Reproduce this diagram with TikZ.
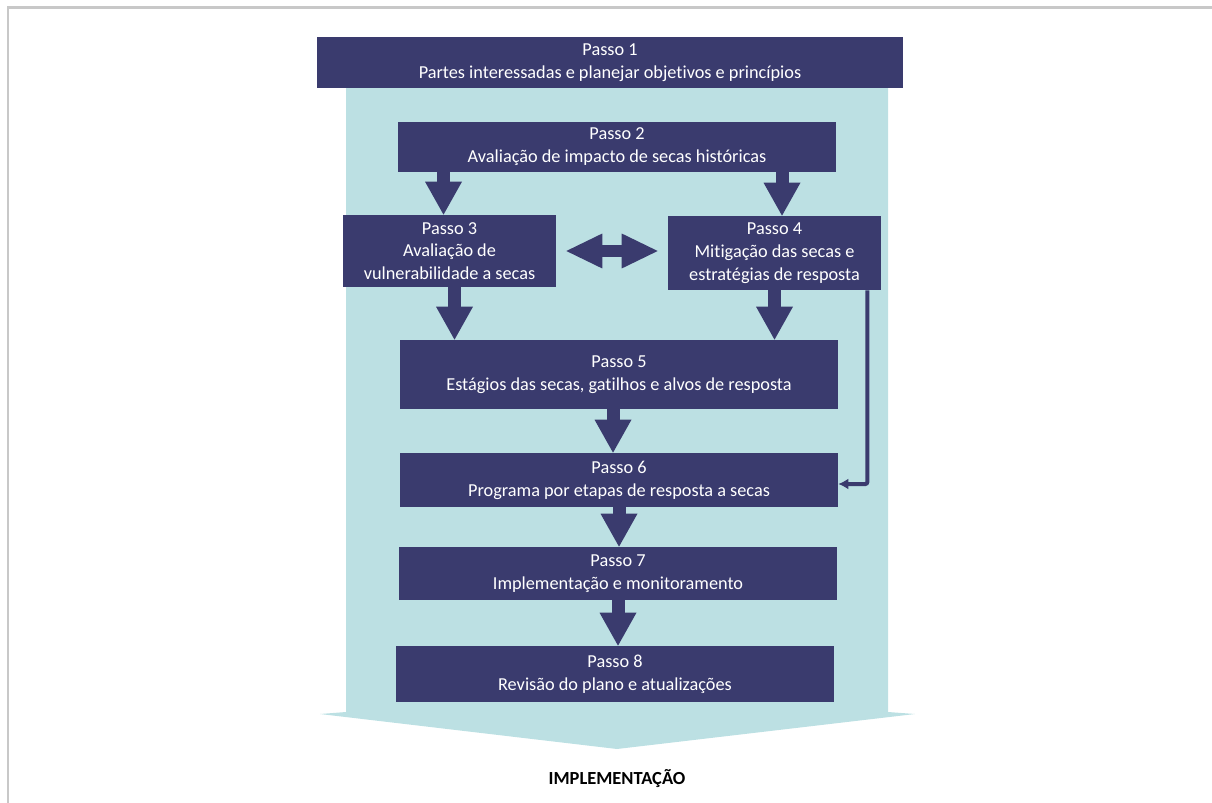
\documentclass[tikz,border=0pt]{standalone}
\usepackage{fontspec}
\setmainfont[Ligatures=NoCommon]{Carlito}
\usepackage{xcolor}
\usetikzlibrary{
    arrows.meta,
    calc
}

\definecolor{passonavy}{RGB}{58,59,110}
\definecolor{passoteal}{RGB}{188,224,227}
\definecolor{framegray}{RGB}{200,200,200}

\begin{document}
\begin{tikzpicture}[
    x=0.02cm,
    y=-0.02cm,
    font=\fontsize{10.4}{13}\selectfont,
    stepbox/.style={
        rectangle,
        fill=passonavy,
        text=white,
        align=center,
        inner sep=0pt,
        minimum width=8.76cm,
        minimum height=1.0cm
    },
    blockarrow/.style={
        -{Triangle[length=0.66cm,width=0.74cm,line width=0pt]},
        line width=0.26cm,
        draw=passonavy
    },
    twoway/.style={
        {Triangle[length=0.72cm,width=0.7cm,line width=0pt]}-{Triangle[length=0.72cm,width=0.7cm,line width=0pt]},
        line width=0.24cm,
        draw=passonavy,
        shorten <=0.2cm,
        shorten >=0.2cm
    },
    feedback/.style={
        -{Latex[length=0.2cm,width=0.22cm]},
        line width=0.08cm,
        draw=passonavy,
        rounded corners=0.04cm
    },
    bottomnote/.style={
        font=\fontsize{10.5}{13}\selectfont\bfseries,
        text=black
    }
]
\useasboundingbox (0,0) rectangle (1212,803);

% =========================================================
% Frame and background chevron
% =========================================================
\draw[framegray, line width=0.06cm] (8,803) -- (8,8) -- (1212,8);

\fill[passoteal] (346,88) -- (888,88) -- (888,712) -- (915,714)
    -- (617,749) -- (320,714) -- (346,712) -- cycle;

% =========================================================
% Steps
% =========================================================
\node[stepbox, minimum width=11.72cm, minimum height=1.02cm] (p1) at (610,62.5)
{Passo 1\\Partes interessadas e planejar objetivos e princípios};

\node[stepbox] (p2) at (617,147)
{Passo 2\\Avaliação de impacto de secas históricas};

\node[stepbox, minimum width=4.26cm, minimum height=1.44cm] (p3) at (449.5,251)
{Passo 3\\Avaliação de\\vulnerabilidade a secas};

\node[stepbox, minimum width=4.26cm, minimum height=1.48cm] (p4) at (774.5,253)
{Passo 4\\Mitigação das secas e\\estratégias de resposta};

\node[stepbox, minimum height=1.38cm] (p5) at (619,374.5)
{Passo 5\\Estágios das secas, gatilhos e alvos de resposta};

\node[stepbox, minimum height=1.08cm] (p6) at (619,480)
{Passo 6\\Programa por etapas de resposta a secas};

\node[stepbox, minimum height=1.06cm] (p7) at (618,573.5)
{Passo 7\\Implementação e monitoramento};

\node[stepbox, minimum height=1.12cm] (p8) at (615,674)
{Passo 8\\Revisão do plano e atualizações};

\node[bottomnote] (impl) at (617,779) {IMPLEMENTAÇÃO};

% =========================================================
% Block arrows
% =========================================================
\draw[blockarrow] ([xshift=-0.12cm]p3.north |- p2.south) -- ([xshift=-0.12cm]p3.north);
\draw[blockarrow] ([xshift=0.15cm]p4.north |- p2.south) -- ([xshift=0.15cm]p4.north);
\draw[blockarrow] ([xshift=0.1cm]p3.south) -- ([xshift=0.1cm]p3.south |- p5.north);
\draw[blockarrow] (p4.south) -- (p4.south |- p5.north);
\draw[blockarrow] ([xshift=-0.12cm]p5.south) -- ([xshift=-0.12cm]p6.north);
\draw[blockarrow] (p6.south) -- (p6.south |- p7.north);
\draw[blockarrow] (p7.south) -- (p7.south |- p8.north);

\draw[twoway] (p3.east) -- (p3.east -| p4.west);

% =========================================================
% Feedback from step 4 to step 6
% =========================================================
\draw[feedback] ([xshift=-0.28cm]p4.south east) |- ([yshift=-0.08cm]p6.east);

\end{tikzpicture}
\end{document}
